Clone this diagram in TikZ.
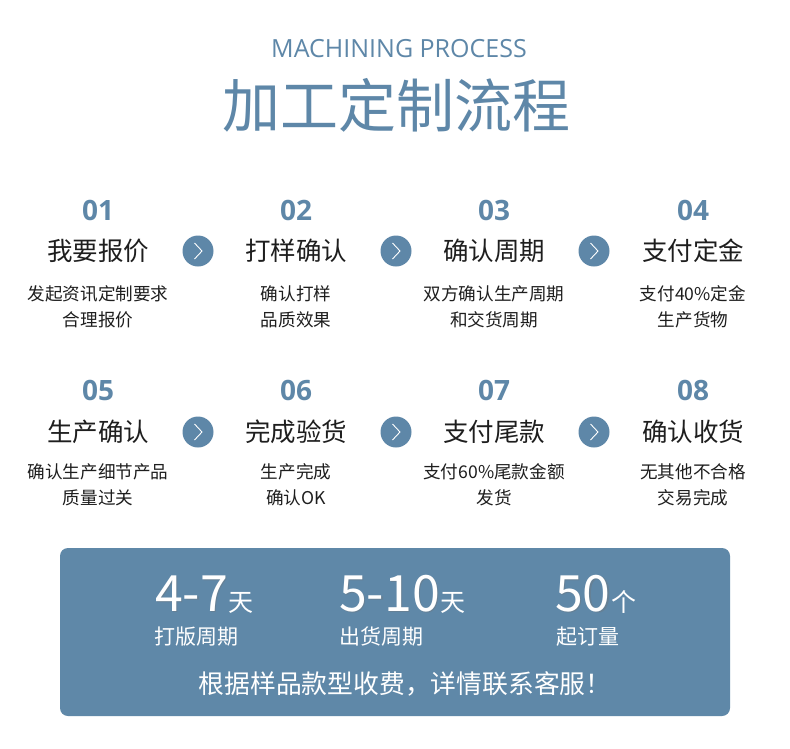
\documentclass[tikz,border=0pt]{standalone}
\usepackage{fontspec}
\setmainfont{Open Sans}
\newfontfamily\cjk{Noto Sans CJK SC}
\newfontfamily\opensans{Open Sans}
\usetikzlibrary{calc}
\definecolor{mainblue}{HTML}{5E87A8}
\definecolor{boxblue}{HTML}{5F88A8}
\definecolor{darktext}{HTML}{1E1E1E}
\tikzset{
  num/.style={text=mainblue, font=\opensans\fontsize{28}{30}\selectfont\bfseries, inner sep=0pt},
  ttl/.style={text=darktext, font=\cjk\fontsize{25.5}{28}\selectfont, inner sep=0pt},
  dsc/.style={text=darktext, font=\cjk\fontsize{17.6}{20}\selectfont, inner sep=0pt},
  arrowcirc/.style={circle, fill=mainblue, minimum size=31pt, inner sep=0pt},
  chev/.style={white, line width=0.9pt},
  bignum/.style={text=white, font=\cjk\fontsize{50}{52}\selectfont, inner sep=0pt, anchor=base west},
  bigunit/.style={text=white, font=\cjk\fontsize{25}{28}\selectfont, inner sep=0pt, anchor=base west},
  boxlbl/.style={text=white, font=\cjk\fontsize{21}{24}\selectfont, inner sep=0pt, anchor=west},
  shadowtxt/.style={text=black!55, opacity=0.35},
}
\begin{document}
\begin{tikzpicture}[x=1pt,y=-1pt]
\useasboundingbox (0,0) rectangle (790,748);
\fill[white] (0,0) rectangle (790,748);
% header
\node[text=mainblue, font=\opensans\fontsize{25}{28}\selectfont, inner sep=0pt] (sub) at (399,49) {MACHINING PROCESS};
\node[text=mainblue, font=\cjk\fontsize{58}{62}\selectfont, inner sep=0pt] (title) at (396,105) {加工定制流程};

% row 1
\node[num] (n1) at (98,210) {01};
\node[num] (n2) at (296,210) {02};
\node[num] (n3) at (494,210) {03};
\node[num] (n4) at (693,210) {04};
\node[ttl] (t1) at (98,251) {我要报价};
\node[ttl] (t2) at (296,251) {打样确认};
\node[ttl] (t3) at (494,251) {确认周期};
\node[ttl] (t4) at (693,251) {支付定金};
\node[dsc] (d1a) at (98,294) {发起资讯定制要求};
\node[dsc] (d1b) at (98,320) {合理报价};
\node[dsc] (d2a) at (296,294) {确认打样};
\node[dsc] (d2b) at (296,320) {品质效果};
\node[dsc] (d3a) at (494,294) {双方确认生产周期};
\node[dsc] (d3b) at (494,320) {和交货周期};
\node[dsc] (d4a) at (693,294) {支付40\%定金};
\node[dsc] (d4b) at (693,320) {生产货物};

% row 2
\node[num] (n5) at (98,390) {05};
\node[num] (n6) at (296,390) {06};
\node[num] (n7) at (494,390) {07};
\node[num] (n8) at (693,390) {08};
\node[ttl] (t5) at (98,432) {生产确认};
\node[ttl] (t6) at (296,432) {完成验货};
\node[ttl] (t7) at (494,432) {支付尾款};
\node[ttl] (t8) at (693,432) {确认收货};
\node[dsc] (d5a) at (98,472) {确认生产细节产品};
\node[dsc] (d5b) at (98,498) {质量过关};
\node[dsc] (d6a) at (296,472) {生产完成};
\node[dsc] (d6b) at (296,498) {确认OK};
\node[dsc] (d7a) at (494,472) {支付60\%尾款金额};
\node[dsc] (d7b) at (494,498) {发货};
\node[dsc] (d8a) at (693,472) {无其他不合格};
\node[dsc] (d8b) at (693,498) {交易完成};

% arrow circles
\foreach \cx/\cy/\nm in {198/251/c1, 396/251/c2, 594/251/c3, 198/432/c4, 396/432/c5, 594/432/c6}{
  \node[arrowcirc] (\nm) at (\cx,\cy) {};
  \draw[chev] ($(\nm.center)+(-3.5,-8)$) -- ($(\nm.center)+(4,0)$) -- ($(\nm.center)+(-3.5,8)$);
}

% bottom box
\node[draw=none, fill=boxblue, rounded corners=8pt, minimum width=670pt, minimum height=168pt, inner sep=0pt] (box) at (395,632) {};

% shadows for box text
\begin{scope}[shift={(1.5,1.5)}]
\node[bignum, shadowtxt] at (155,611) {4-7};
\node[bignum, shadowtxt] at (339,611) {5-10};
\node[bignum, shadowtxt] at (555,611) {50};
\end{scope}
\node[bignum] (b1) at (155,611) {4-7};
\node[bigunit] (u1) at (b1.base east) {天};
\node[boxlbl] (l1) at (154,637) {打版周期};
\node[bignum] (b2) at (339,611) {5-10};
\node[bigunit] (u2) at (b2.base east) {天};
\node[boxlbl] (l2) at (339,637) {出货周期};
\node[bignum] (b3) at (555,611) {50};
\node[bigunit] (u3) at (b3.base east) {个};
\node[boxlbl] (l3) at (556,637) {起订量};
\node[text=white, font=\cjk\fontsize{25.8}{28}\selectfont, inner sep=0pt] (note) at (405,684) {根据样品款型收费，详情联系客服！};
\end{tikzpicture}
\end{document}
